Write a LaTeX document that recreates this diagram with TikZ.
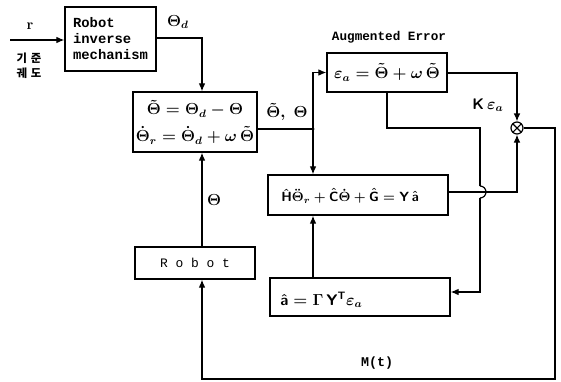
\documentclass[tikz,border=0pt]{standalone}
\usepackage{amsmath}
\usepackage{fontspec}
\setmonofont{Liberation Mono}
\newfontfamily\kofont{Noto Sans CJK KR}
\usetikzlibrary{arrows.meta,calc}
\begin{document}
\begin{tikzpicture}[x=0.75pt,y=-0.75pt,
  box/.style={draw,line width=1pt,inner sep=0pt},
  conn/.style={line width=0.9pt},
  arr/.style={conn,-{Latex[length=6pt,width=5pt]}},
  mathlbl/.style={font=\fontsize{11.5}{13}\selectfont\boldmath},
  ttlbl/.style={font=\ttfamily\bfseries\fontsize{10}{12}\selectfont},
  sumnode/.style={draw,line width=0.9pt,circle,minimum size=9pt,inner sep=0pt,
    path picture={\draw[line width=0.8pt] (path picture bounding box.north west)--(path picture bounding box.south east)
      (path picture bounding box.north east)--(path picture bounding box.south west);}}]
\useasboundingbox (0,0) rectangle (561,382);

% blocks
\node[box,minimum width=68.25pt,minimum height=48pt,align=left,
  font=\ttfamily\bfseries\fontsize{10.4}{12}\selectfont] (rim) at (110.5,39) {Robot\\inverse\\mechanism};
\node[box,minimum width=93pt,minimum height=45pt,align=center,mathlbl] (err) at (195,122)
  {$\tilde{\Theta}=\Theta_d-\Theta$\\[6pt]$\dot{\Theta}_r=\dot{\Theta}_d+\omega\,\tilde{\Theta}$};
\node[box,minimum width=90pt,minimum height=29.25pt,mathlbl] (aug) at (387,72.5)
  {$\varepsilon_a=\tilde{\Theta}+\omega\,\tilde{\Theta}$};
\node[box,minimum width=135pt,minimum height=30pt] (hat) at (358,195) {};
\node[anchor=west,inner sep=0pt,font=\fontsize{10}{12}\selectfont\boldmath] (hattxt) at (281,196)
  {$\hat{\mathsf{H}}\ddot{\Theta}_r+\hat{\mathsf{C}}\dot{\Theta}+\hat{\mathsf{G}}=\mathsf{Y}\,\hat{\mathsf{a}}$};
\node[box,minimum width=135pt,minimum height=28.5pt] (ahat) at (360,297) {};
\node[anchor=west,inner sep=0pt,mathlbl] (ahattxt) at (280,300)
  {$\hat{\mathsf{a}}=\Gamma\,\mathsf{Y}^{\mathsf{T}}\varepsilon_a$};
\node[box,minimum width=90pt,minimum height=24pt,font=\ttfamily\fontsize{9.7}{12}\selectfont] (robot) at (195,263) {R o b o t};
\node[sumnode] (sum) at (517,128) {};

% coordinates
\coordinate (in) at (10,40);
\coordinate (j1) at (313,129);
\coordinate (rimc) at (202,38);
\coordinate (augc1) at (387,128);
\coordinate (augc2) at (480,128);
\coordinate (hop1) at (480,186);
\coordinate (hop2) at (480,198);
\coordinate (ahc) at (480,292);
\coordinate (hatc) at (517,192);
\coordinate (augc3) at (517,73);
\coordinate (fb1) at (555,128);
\coordinate (fb2) at (555,379);
\coordinate (fb3) at (202,379);

% connectors
\draw[arr] (in) -- (in -| rim.west);
\draw[arr] (rim.east |- rimc) -- (rimc) -- (rimc |- err.north);
\draw[conn] (err.east |- j1) -- (j1);
\fill (j1) circle (1.6);
\draw[arr] (j1) |- (aug.west);
\draw[arr] (j1) -- (j1 |- hat.north);
\draw[arr] (j1 |- ahat.north) -- (j1 |- hat.south);
\draw[conn] (aug.south -| augc1) -- (augc1) -- (augc2) -- (hop1);
\draw[conn] (hop1) arc[start angle=-90,end angle=90,radius=6];
\draw[arr] (hop2) -- (ahc) -- (ahat.east |- ahc);
\draw[arr] (hat.east |- hatc) -- (hatc) -- (sum.south);
\draw[arr] (aug.east |- augc3) -- (augc3) -- (sum.north);
\draw[arr] (sum.east) -- (fb1) -- (fb2) -- (fb3) -- (fb3 |- robot.south);
\draw[arr] (fb3 |- robot.north) -- (fb3 |- err.south);

% labels
\node[font=\bfseries\fontsize{11}{13}\selectfont] (lr) at (30,26) {r};
\node[font=\kofont\bfseries\fontsize{8.5}{9}\selectfont,align=center,inner sep=0pt] (lko) at (29,66) {기\hspace{3pt}준\\[2pt]궤\hspace{3pt}도};
\node[mathlbl] (ltd) at (178,22) {$\Theta_d$};
\node[mathlbl] (lte) at (287,112) {$\tilde{\Theta},\;\Theta$};
\node[ttlbl,font=\ttfamily\bfseries\fontsize{9.5}{12}\selectfont] (laug) at (389,37) {Augmented Error};
\node[mathlbl] (lk) at (488,105) {$\mathsf{K}\,\varepsilon_a$};
\node[mathlbl] (lth) at (214,200) {$\Theta$};
\node[ttlbl] (lm) at (377,363) {M(t)};
\end{tikzpicture}
\end{document}
